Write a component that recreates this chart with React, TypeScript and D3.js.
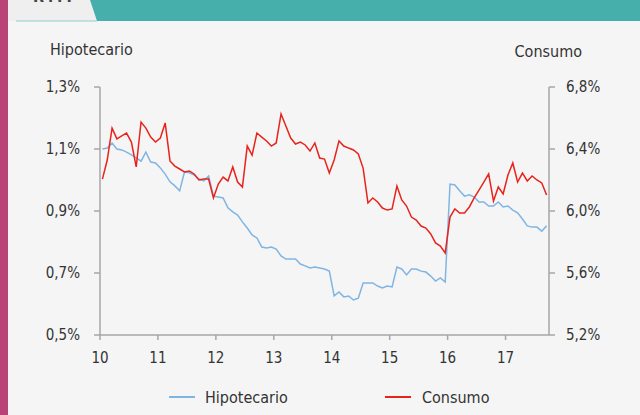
import React from "react";
import * as d3 from "d3";

// monthly series, Jan 2010 - Sep 2017
const hipotecario = [
  1.100, 1.103, 1.119, 1.100, 1.097, 1.090, 1.081, 1.071, 1.061, 1.090, 1.058, 1.055,
  1.039, 1.019, 0.994, 0.981, 0.965, 1.026, 1.023, 1.016, 1.003, 0.997, 1.013, 0.948,
  0.945, 0.942, 0.910, 0.897, 0.887, 0.865, 0.845, 0.823, 0.813, 0.784, 0.781, 0.784,
  0.777, 0.755, 0.745, 0.745, 0.745, 0.729, 0.723, 0.716, 0.719, 0.716, 0.713, 0.706,
  0.626, 0.639, 0.623, 0.626, 0.613, 0.619, 0.668, 0.668, 0.668, 0.658, 0.652, 0.658,
  0.655, 0.719, 0.713, 0.694, 0.713, 0.713, 0.706, 0.703, 0.690, 0.674, 0.684, 0.671,
  0.987, 0.984, 0.965, 0.948, 0.952, 0.945, 0.929, 0.929, 0.916, 0.916, 0.929, 0.913,
  0.916, 0.903, 0.894, 0.874, 0.852, 0.848, 0.848, 0.835, 0.852
];

const consumo = [
  6.206, 6.329, 6.535, 6.465, 6.484, 6.503, 6.445, 6.284, 6.574, 6.535, 6.477, 6.445,
  6.471, 6.568, 6.323, 6.290, 6.271, 6.252, 6.258, 6.239, 6.200, 6.206, 6.206, 6.084,
  6.174, 6.219, 6.194, 6.284, 6.187, 6.155, 6.419, 6.361, 6.503, 6.477, 6.452, 6.419,
  6.439, 6.626, 6.548, 6.471, 6.432, 6.445, 6.426, 6.387, 6.439, 6.342, 6.335, 6.245,
  6.329, 6.452, 6.419, 6.406, 6.394, 6.368, 6.277, 6.052, 6.084, 6.058, 6.019, 6.006,
  6.013, 6.161, 6.071, 6.032, 5.961, 5.942, 5.903, 5.890, 5.852, 5.794, 5.774, 5.729,
  5.961, 6.013, 5.987, 5.987, 6.026, 6.084, 6.135, 6.187, 6.239, 6.065, 6.155, 6.110,
  6.232, 6.310, 6.187, 6.245, 6.194, 6.226, 6.200, 6.181, 6.103
];

const years = ["10", "11", "12", "13", "14", "15", "16", "17"];
const leftTicks = [0.5, 0.7, 0.9, 1.1, 1.3];
const rightTicks = [5.2, 5.6, 6.0, 6.4, 6.8];

const W = 640, H = 415;
const FONT = "'Liberation Sans Narrow', 'DejaVu Sans Condensed', sans-serif";
const AXIS = "#a6a6a6";
const TXT = "#333333";
const BLUE = "#7fb5e4";
const RED = "#e8231b";

const fmt = (v: number, d: number) => v.toFixed(d).replace(".", ",") + "%";

export default function App() {
  const months = d3.range(hipotecario.length);
  const x = d3.scaleBand<number>().domain(months).range([100, 549]);
  const yL = d3.scaleLinear().domain([0.5, 1.3]).range([335, 87]);
  const yR = d3.scaleLinear().domain([5.2, 6.8]).range([335, 87]);
  const cx = (i: number) => (x(i) as number) + x.bandwidth() / 2;

  const lineL = d3.line<number>().x((_, i) => cx(i)).y((d) => yL(d));
  const lineR = d3.line<number>().x((_, i) => cx(i)).y((d) => yR(d));

  return (
    <svg width={W} height={H} style={{ position: "fixed", left: 0, top: 0, display: "block" }}
      fontFamily={FONT}>
      <rect x={0} y={0} width={W} height={H} fill="#f5f5f5" />
      <rect x={0} y={0} width={8} height={H} fill="#b94276" />
      {/* header band */}
      <rect x={8} y={0} width={W - 8} height={21} fill="#46afab" />
      <polygon points="8,0 90,0 97,21 8,21" fill="#efefef" />
      <line x1={16} x2={97} y1={21} y2={21} stroke="#8ccfcb" strokeWidth={1} />
      <text x={33} y={2} fontSize={16} fontWeight="bold" fill="#444" letterSpacing={4}>RMI</text>

      {/* axis titles */}
      <text x={50} y={55} fontSize={16} fill={TXT}>Hipotecario</text>
      <text x={582} y={57} fontSize={16} fill={TXT} textAnchor="end">Consumo</text>

      {/* axes */}
      <line x1={100} x2={100} y1={87} y2={335} stroke={AXIS} strokeWidth={1.5} />
      <line x1={549} x2={549} y1={87} y2={335} stroke={AXIS} strokeWidth={1.5} />
      <line x1={100} x2={549} y1={335} y2={335} stroke={AXIS} strokeWidth={1.5} />
      {leftTicks.map((t) => (
        <g key={"l" + t}>
          <line x1={94} x2={100} y1={yL(t)} y2={yL(t)} stroke={AXIS} strokeWidth={1.5} />
          <text x={80} y={yL(t)} dy="0.35em" fontSize={15} fill={TXT} textAnchor="end">{fmt(t, 1)}</text>
        </g>
      ))}
      {rightTicks.map((t) => (
        <g key={"r" + t}>
          <line x1={549} x2={555} y1={yR(t)} y2={yR(t)} stroke={AXIS} strokeWidth={1.5} />
          <text x={566} y={yR(t)} dy="0.35em" fontSize={15} fill={TXT}>{fmt(t, 1)}</text>
        </g>
      ))}
      {years.map((yr, k) => {
        const px = x(k * 12) as number;
        return (
          <g key={yr}>
            <line x1={px} x2={px} y1={335} y2={340} stroke={AXIS} strokeWidth={1.5} />
            <text x={px} y={358} dy="0.35em" fontSize={15} fill={TXT} textAnchor="middle">{yr}</text>
          </g>
        );
      })}

      {/* series */}
      <path d={lineL(hipotecario) || ""} fill="none" stroke={BLUE} strokeWidth={1.5} />
      <path d={lineR(consumo) || ""} fill="none" stroke={RED} strokeWidth={1.5} />

      {/* legend */}
      <line x1={169} x2={195} y1={397} y2={397} stroke={BLUE} strokeWidth={2} />
      <text x={205} y={397} dy="0.35em" fontSize={16} fill={TXT}>Hipotecario</text>
      <line x1={385} x2={411} y1={397} y2={397} stroke={RED} strokeWidth={2} />
      <text x={422} y={397} dy="0.35em" fontSize={16} fill={TXT}>Consumo</text>
    </svg>
  );
}
